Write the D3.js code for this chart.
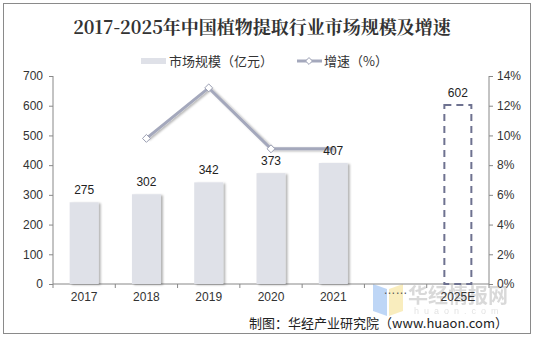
<!DOCTYPE html>
<html><head><meta charset="utf-8">
<script src="https://cdn.jsdelivr.net/npm/d3@7"></script>
<style>body{margin:0;background:#fff}svg{display:block}</style>
</head><body><svg id="c" width="535" height="339"></svg>
<script>
const categories = ["2017","2018","2019","2020","2021","……","2025E"];
const marketSize = [275,302,342,373,407,null,602];
const growth = [null,9.8,13.2,9.1,9.1,null,null];
const leftTicks = [0,100,200,300,400,500,600,700];
const rightTicks = [0,2,4,6,8,10,12,14];

const svg = d3.select("#c");
const M = {l:53, r:489, t:76, b:284};
const font = "Arial, 'Liberation Sans', 'Noto Sans CJK SC', sans-serif";

svg.append("rect").attr("x",3.5).attr("y",3.5).attr("width",527).attr("height",330)
  .attr("fill","#fff").attr("stroke","#8a8a8a").attr("stroke-width",1);

svg.append("text").attr("x",262).attr("y",34).attr("text-anchor","middle")
  .attr("font-family","'Noto Serif CJK SC','Noto Sans CJK SC',serif").attr("font-weight","bold")
  .attr("font-size",18).attr("fill","#333").text("2017-2025年中国植物提取行业市场规模及增速");

const x = d3.scaleBand().domain(categories).range([M.l,M.r]);
const y = d3.scaleLinear().domain([0,700]).range([M.b,M.t]);
const y2 = d3.scaleLinear().domain([0,14]).range([M.b,M.t]);

const defs = svg.append("defs");
const f = defs.append("filter").attr("id","sh").attr("x","-20%").attr("y","-20%").attr("width","150%").attr("height","150%");
f.append("feDropShadow").attr("dx",2).attr("dy",1).attr("stdDeviation",1).attr("flood-color","#000").attr("flood-opacity",0.3);

// watermark (drawn beneath the chart marks)
const wm = svg.append("g").attr("opacity",0.55);
wm.append("path").attr("d","M373,284 L387,289 L387,316 L373,311 Z").attr("fill","#8ab6f0");
wm.append("path").attr("d","M389,289 L403,284 L403,311 L389,316 Z").attr("fill","#f5e08a");
wm.append("text").attr("x",408).attr("y",303).attr("font-family","'Noto Sans CJK SC',sans-serif")
  .attr("font-weight","bold").attr("font-size",20).attr("fill","#bbb").text("华经情报网");
wm.append("text").attr("x",414).attr("y",314).attr("font-family",font)
  .attr("font-size",9).attr("fill","#ccc").attr("letter-spacing",5).text("huaon.com");

// axes
const axL = svg.append("g").attr("transform",`translate(${M.l},0)`)
  .call(d3.axisLeft(y).tickValues(leftTicks).tickSize(4).tickPadding(6));
const axR = svg.append("g").attr("transform",`translate(${M.r},0)`)
  .call(d3.axisRight(y2).tickValues(rightTicks).tickSize(4).tickPadding(4).tickFormat(d=>d+"%"));
const axB = svg.append("g").attr("transform",`translate(0,${M.b})`)
  .call(d3.axisBottom(x).tickSize(0).tickPadding(8));
svg.append("g").selectAll("line").data(categories.concat(["end"])).join("line")
  .attr("x1",(d,i)=>M.l+i*x.step()).attr("x2",(d,i)=>M.l+i*x.step())
  .attr("y1",M.b).attr("y2",M.b+4).attr("stroke","#888");
[axL,axR,axB].forEach(a=>{
  a.selectAll("path,line").attr("stroke","#888");
  a.selectAll("text").attr("font-family",font).attr("font-size",12).attr("fill","#333");
  a.select(".domain").attr("d", a===axB ? `M${M.l},0H${M.r}` : `M0,${M.b}V${M.t}`);
});
axB.selectAll(".tick text").filter(d=>d==="……").attr("fill","#555").attr("dy","0.2em");

const bw = 29;
const solid = categories.map((c,i)=>({c,v:marketSize[i]})).filter(d=>d.v!=null && d.c!=="2025E");
svg.append("g").selectAll("rect").data(solid).join("rect")
  .attr("x",d=>x(d.c)+x.bandwidth()/2-bw/2).attr("y",d=>y(d.v))
  .attr("width",bw).attr("height",d=>y(0)-y(d.v)).attr("fill","#dfe1e8").attr("filter","url(#sh)");

// forecast dashed bar
const fc = {c:"2025E", v:marketSize[6]};
svg.append("rect").attr("x",x(fc.c)+x.bandwidth()/2-bw/2+1).attr("y",y(fc.v))
  .attr("width",bw-2).attr("height",y(0)-y(fc.v)).attr("fill","none")
  .attr("stroke","#6e7290").attr("stroke-width",2).attr("stroke-dasharray","7,5");

// growth line
const gpts = categories.map((c,i)=>({c,v:growth[i]})).filter(d=>d.v!=null);
const line = d3.line().x(d=>x(d.c)+x.bandwidth()/2).y(d=>y2(d.v));
svg.append("path").datum(gpts).attr("d",line).attr("fill","none")
  .attr("stroke","#a4a8bc").attr("stroke-width",3).attr("filter","url(#sh)");
svg.append("g").selectAll("path").data(gpts.slice(0,3)).join("path")
  .attr("d",d3.symbol(d3.symbolDiamond2,40))
  .attr("transform",d=>`translate(${x(d.c)+x.bandwidth()/2},${y2(d.v)})`)
  .attr("fill","#fff").attr("stroke","#9a9eb2").attr("stroke-width",1);

// bar labels
const lab = categories.map((c,i)=>({c,v:marketSize[i]})).filter(d=>d.v!=null);
svg.append("g").selectAll("text").data(lab).join("text")
  .attr("x",d=>x(d.c)+x.bandwidth()/2).attr("y",d=>y(d.v)-8)
  .attr("text-anchor","middle").attr("font-family",font).attr("font-size",12).attr("fill","#222")
  .text(d=>d.v);

// legend
const lg = svg.append("g").attr("font-family","'Noto Sans CJK SC',sans-serif").attr("font-size",13).attr("fill","#333");
lg.append("rect").attr("x",141).attr("y",58).attr("width",25).attr("height",6).attr("fill","#dfe1e8");
lg.append("text").attr("x",169).attr("y",66).text("市场规模（亿元）");
lg.append("line").attr("x1",297).attr("x2",322).attr("y1",61).attr("y2",61).attr("stroke","#a4a8bc").attr("stroke-width",3);
lg.append("path").attr("d",d3.symbol(d3.symbolDiamond2,30)).attr("transform","translate(309,61)")
  .attr("fill","#fff").attr("stroke","#9a9eb2");
lg.append("text").attr("x",324).attr("y",66).text("增速（%）");

svg.append("text").attr("x",508).attr("y",328).attr("text-anchor","end")
  .attr("font-family","'Noto Sans CJK SC',sans-serif").attr("font-size",13).attr("fill","#222")
  .text("制图：华经产业研究院（www.huaon.com）");
</script></body></html>
